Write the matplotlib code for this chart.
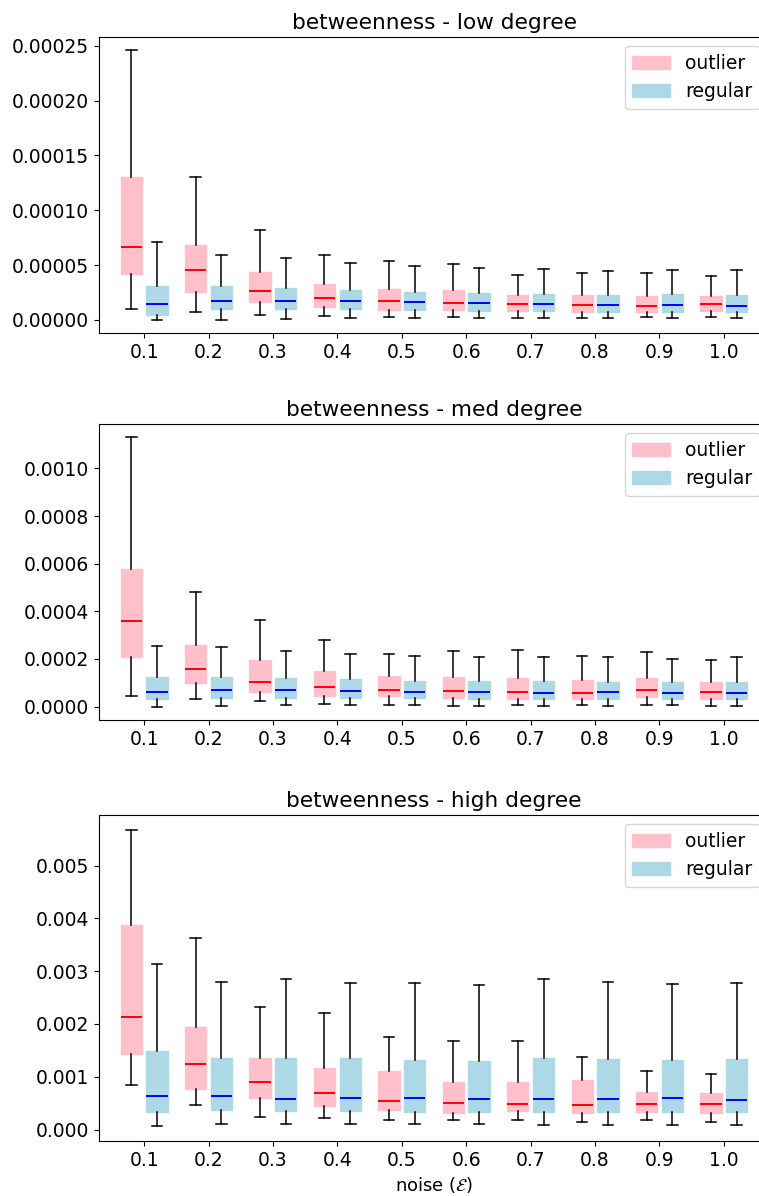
import numpy as np
import matplotlib
matplotlib.use("Agg")
import matplotlib.pyplot as plt
from matplotlib.patches import Patch

plt.rcParams['font.size'] = 13
plt.rcParams['xtick.labelsize'] = 13.5
plt.rcParams['ytick.labelsize'] = 13.5

noise = ['0.1', '0.2', '0.3', '0.4', '0.5', '0.6', '0.7', '0.8', '0.9', '1.0']

# low degree: outlier
low_out_lo = [0.0000098, 0.0000076, 0.0000046, 0.0000039, 0.0000027, 0.0000027, 0.0000021, 0.0000021, 0.0000027, 0.0000027]
low_out_q1 = [0.0000417, 0.0000255, 0.0000167, 0.0000116, 0.0000091, 0.0000094, 0.0000079, 0.0000076, 0.0000073, 0.0000085]
low_out_med = [0.0000666, 0.0000459, 0.0000265, 0.0000198, 0.0000173, 0.0000155, 0.0000143, 0.0000137, 0.0000128, 0.0000143]
low_out_q3 = [0.0001307, 0.0000681, 0.0000435, 0.0000328, 0.0000280, 0.0000274, 0.0000225, 0.0000225, 0.0000219, 0.0000222]
low_out_hi = [0.0002457, 0.0001307, 0.0000824, 0.0000590, 0.0000541, 0.0000505, 0.0000413, 0.0000426, 0.0000423, 0.0000404]
# low degree: regular
low_reg_lo = [0.0000003, 0.0000003, 0.0000012, 0.0000021, 0.0000021, 0.0000021, 0.0000021, 0.0000015, 0.0000015, 0.0000015]
low_reg_q1 = [0.0000043, 0.0000103, 0.0000103, 0.0000103, 0.0000094, 0.0000085, 0.0000082, 0.0000076, 0.0000076, 0.0000076]
low_reg_med = [0.0000146, 0.0000176, 0.0000176, 0.0000173, 0.0000161, 0.0000152, 0.0000143, 0.0000137, 0.0000137, 0.0000128]
low_reg_q3 = [0.0000313, 0.0000307, 0.0000292, 0.0000277, 0.0000255, 0.0000246, 0.0000240, 0.0000228, 0.0000234, 0.0000228]
low_reg_hi = [0.0000709, 0.0000596, 0.0000560, 0.0000523, 0.0000487, 0.0000471, 0.0000462, 0.0000444, 0.0000453, 0.0000453]

# med degree: outlier
med_out_lo = [0.0000462, 0.0000322, 0.0000238, 0.0000126, 0.0000070, 0.0000042, 0.0000084, 0.0000070, 0.0000070, 0.0000042]
med_out_q1 = [0.000207, 0.0000979, 0.0000629, 0.0000448, 0.0000448, 0.0000378, 0.0000336, 0.0000336, 0.0000420, 0.0000336]
med_out_med = [0.000359, 0.000159, 0.000105, 0.0000811, 0.0000713, 0.0000657, 0.0000615, 0.0000573, 0.0000713, 0.0000601]
med_out_q3 = [0.000578, 0.000260, 0.000194, 0.000150, 0.000127, 0.000123, 0.000120, 0.000112, 0.000120, 0.000102]
med_out_hi = [0.00113, 0.000483, 0.000364, 0.000281, 0.000221, 0.000235, 0.000236, 0.000214, 0.000231, 0.000197]
# med degree: regular
med_reg_lo = [0.0, 0.0000042, 0.0000056, 0.0000070, 0.0000070, 0.0000042, 0.0000042, 0.0000028, 0.0000070, 0.0000042]
med_reg_q1 = [0.0000322, 0.0000378, 0.0000378, 0.0000378, 0.0000350, 0.0000336, 0.0000336, 0.0000336, 0.0000308, 0.0000336]
med_reg_med = [0.0000629, 0.0000713, 0.0000713, 0.0000671, 0.0000629, 0.0000629, 0.0000587, 0.0000601, 0.0000573, 0.0000573]
med_reg_q3 = [0.000124, 0.000124, 0.000119, 0.000115, 0.000109, 0.000108, 0.000108, 0.000105, 0.000102, 0.000103]
med_reg_hi = [0.000256, 0.000250, 0.000232, 0.000221, 0.000211, 0.000210, 0.000210, 0.000207, 0.000201, 0.000207]

# high degree: outlier
high_out_lo = [0.000835, 0.000468, 0.000234, 0.000215, 0.000177, 0.000171, 0.000184, 0.000139, 0.000171, 0.000139]
high_out_q1 = [0.00144, 0.000772, 0.000589, 0.000449, 0.000361, 0.000304, 0.000354, 0.000304, 0.000329, 0.000304]
high_out_med = [0.00213, 0.00124, 0.000899, 0.000696, 0.000544, 0.000494, 0.000475, 0.000462, 0.000487, 0.000481]
high_out_q3 = [0.00387, 0.00195, 0.00136, 0.00116, 0.00111, 0.000899, 0.000892, 0.00093, 0.000715, 0.000696]
high_out_hi = [0.00568, 0.00363, 0.00232, 0.00220, 0.00175, 0.00168, 0.00168, 0.00137, 0.00111, 0.00105]
# high degree: regular
high_reg_lo = [0.0000633, 0.000101, 0.000101, 0.000101, 0.000108, 0.000101, 0.0000949, 0.0000823, 0.0000949, 0.0000886]
high_reg_q1 = [0.000329, 0.000361, 0.000348, 0.000348, 0.000329, 0.000329, 0.000323, 0.000323, 0.000323, 0.000329]
high_reg_med = [0.000633, 0.000633, 0.000582, 0.000601, 0.000595, 0.000582, 0.000576, 0.000582, 0.000595, 0.000557]
high_reg_q3 = [0.00149, 0.00135, 0.00136, 0.00136, 0.00132, 0.00130, 0.00136, 0.00134, 0.00132, 0.00133]
high_reg_hi = [0.00314, 0.00279, 0.00285, 0.00277, 0.00277, 0.00274, 0.00285, 0.00280, 0.00276, 0.00277]

panels = [
    ('betweenness - low degree',
     (low_out_lo, low_out_q1, low_out_med, low_out_q3, low_out_hi),
     (low_reg_lo, low_reg_q1, low_reg_med, low_reg_q3, low_reg_hi)),
    ('betweenness - med degree',
     (med_out_lo, med_out_q1, med_out_med, med_out_q3, med_out_hi),
     (med_reg_lo, med_reg_q1, med_reg_med, med_reg_q3, med_reg_hi)),
    ('betweenness - high degree',
     (high_out_lo, high_out_q1, high_out_med, high_out_q3, high_out_hi),
     (high_reg_lo, high_reg_q1, high_reg_med, high_reg_q3, high_reg_hi)),
]


def make_stats(lo, q1, med, q3, hi):
    return [dict(whislo=lo[i], q1=q1[i], med=med[i], q3=q3[i], whishi=hi[i], fliers=[])
            for i in range(len(med))]


def draw_boxes(ax, stats, pos, face, medcol):
    ax.bxp(stats, positions=pos, widths=0.33, patch_artist=True, showfliers=False,
           manage_ticks=False,
           boxprops=dict(facecolor=face, edgecolor=face, linewidth=1),
           medianprops=dict(color=medcol, linewidth=1.4),
           whiskerprops=dict(color='black', linewidth=1.1),
           capprops=dict(color='black', linewidth=1.1))


fig = plt.figure(figsize=(7.59, 11.96), dpi=100)
# axes rectangles in figure pixels (top, height)
rects = [(37, 296), (424, 296), (815, 326)]
x = np.arange(1, len(noise) + 1)

for (title, out, reg), (top, h) in zip(panels, rects):
    ax = fig.add_axes([99 / 759, 1 - (top + h) / 1196, 670 / 759, h / 1196])
    draw_boxes(ax, make_stats(*out), x - 0.2, 'pink', 'red')
    draw_boxes(ax, make_stats(*reg), x + 0.2, 'lightblue', 'blue')
    ax.set_xticks(x)
    ax.set_xticklabels(noise)
    ax.set_xlim(0.3, 10.7)
    ax.set_title(title, fontsize=15.6)
    ax.legend(handles=[Patch(color='pink', label='outlier'),
                       Patch(color='lightblue', label='regular')],
              loc='upper right', fontsize=13.5)

ax.set_xlabel(r'noise ($\mathcal{E}$)')

fig.savefig('out.png', dpi=100)
